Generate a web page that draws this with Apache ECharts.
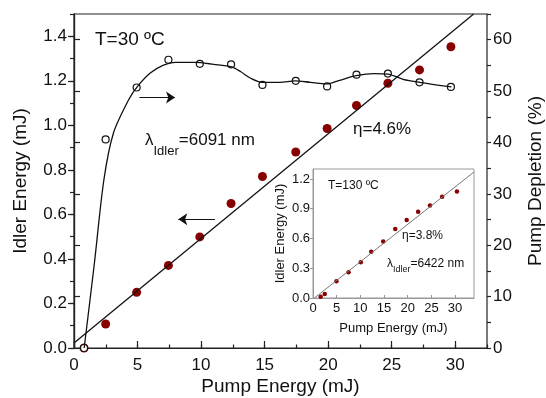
<!DOCTYPE html>
<html>
<head>
<meta charset="utf-8">
<script src="https://cdn.jsdelivr.net/npm/echarts@6/dist/echarts.min.js"></script>
<style>
  html, body { margin: 0; background: #fff; }
  #chart { width: 546px; height: 398px; }
</style>
</head>
<body>
<div id="chart"></div>
<script>
// main plot, T=30 ºC
const pumpEnergy = [0.79, 2.49, 4.93, 7.43, 9.9, 12.36, 14.83, 17.45, 19.92, 22.23, 24.7, 27.19, 29.66]
const idlerEnergy = [0.0, 0.108, 0.25, 0.371, 0.499, 0.649, 0.77, 0.88, 0.986, 1.089, 1.189, 1.249, 1.353]
const pumpDepletion = [0, 40.6, 50.7, 56.1, 55.3, 55.2, 51.2, 52.0, 50.9, 53.2, 53.4, 51.7, 50.8]
// smooth guide curve drawn through the depletion points
const curveX = [0.8, 1.6, 2.35, 3.1, 4.3, 5.0, 6.0, 7.0, 8.0, 9.5, 11.0, 12.4, 13.1, 13.9, 14.8, 16.2, 17.4, 18.6, 19.9, 20.9, 22.2, 23.6, 24.7, 25.9, 27.2, 29.7]
const curveY = [0, 16.4, 32.7, 41.8, 48.3, 50.9, 53.5, 55.0, 55.6, 55.6, 55.2, 54.7, 53.8, 52.5, 51.7, 51.7, 52.0, 51.7, 51.4, 52.1, 53.0, 53.4, 53.3, 52.3, 51.7, 50.8]
const fitX = [0, 31.45]
const fitY = [0.023, 1.5]
const arrowRight = [[5.14, 1.125], [7.95, 1.125]]
const arrowLeft = [[11.1, 0.578], [8.21, 0.578]]

// inset, T=130 ºC
const insetPump = [1.63, 2.48, 4.95, 7.5, 10.1, 12.3, 14.83, 17.37, 19.78, 22.2, 24.7, 27.27, 30.4]
const insetIdler = [0.013, 0.04, 0.17, 0.26, 0.361, 0.465, 0.569, 0.695, 0.786, 0.869, 0.933, 1.02, 1.073]
const insetFitX = [0.3, 34]
const insetFitY = [0, 1.27]

const FONT = '"Liberation Sans", Arial, sans-serif'
const DARK = '#222'
const RED = '#880000'

const zip = (xs, ys) => xs.map((x, i) => [x, ys[i]])

const chart = echarts.init(document.getElementById('chart'), null, { renderer: 'canvas' })

const labelStyle = (size, margin) => ({
  fontSize: size, fontFamily: FONT, color: '#111', margin: margin
})

const option = {
  animation: false,
  backgroundColor: '#fff',
  textStyle: { fontFamily: FONT },
  grid: [
    { left: 74, right: 59, top: 14, bottom: 50, show: true, borderColor: DARK, borderWidth: 1.2,
      containLabel: false, outerBoundsMode: 'none' },
    { left: 313, right: 72, top: 169, bottom: 100, show: true, backgroundColor: '#fff',
      borderColor: '#999', borderWidth: 1, containLabel: false, outerBoundsMode: 'none' }
  ],
  xAxis: [
    {
      gridIndex: 0, type: 'value', position: 'bottom', min: 0, max: 32.5, interval: 5,
      name: 'Pump Energy (mJ)', nameLocation: 'middle', nameGap: 29, nameMoveOverlap: false,
      nameTextStyle: { fontSize: 19, fontFamily: FONT, color: '#111' },
      axisLine: { show: true, lineStyle: { color: DARK, width: 1.2 } },
      axisTick: { show: true, inside: true, length: 7, lineStyle: { color: DARK, width: 1.2 } },
      axisLabel: Object.assign(labelStyle(17, 9), {
        showMaxLabel: false, formatter: v => (v % 5 === 0 ? String(v) : '')
      }),
      splitLine: { show: false }
    },
    {
      // minor ticks
      gridIndex: 0, type: 'value', position: 'bottom', min: 0, max: 32.5, interval: 2.5,
      axisLine: { show: false },
      axisTick: { show: true, inside: true, length: 3.5, lineStyle: { color: DARK, width: 1.2 } },
      axisLabel: { show: false }, splitLine: { show: false }
    },
    {
      gridIndex: 1, type: 'value', position: 'bottom', min: 0, max: 34, interval: 5,
      name: 'Pump Energy (mJ)', nameLocation: 'middle', nameGap: 24, nameMoveOverlap: false,
      nameTextStyle: { fontSize: 13, fontFamily: FONT, color: '#111' },
      axisLine: { show: true, lineStyle: { color: '#999', width: 1 } },
      axisTick: { show: true, inside: true, length: 3, lineStyle: { color: '#999' } },
      axisLabel: Object.assign(labelStyle(13, 4), {
        showMaxLabel: false, formatter: v => (v % 5 === 0 ? String(v) : '')
      }),
      splitLine: { show: false }
    }
  ],
  yAxis: [
    {
      gridIndex: 0, type: 'value', position: 'left', min: 0, max: 1.5, interval: 0.2,
      name: 'Idler Energy (mJ)', nameLocation: 'middle', nameGap: 44, nameRotate: 90, nameMoveOverlap: false,
      nameTextStyle: { fontSize: 19, fontFamily: FONT, color: '#111' },
      axisLine: { show: true, lineStyle: { color: DARK, width: 1.2 } },
      axisTick: { show: true, inside: false, length: 6, lineStyle: { color: DARK, width: 1.2 } },
      axisLabel: Object.assign(labelStyle(17, 7), {
        showMaxLabel: false, formatter: v => (Math.abs(v * 10 % 2) < 1e-6 ? v.toFixed(1) : '')
      }),
      splitLine: { show: false }
    },
    {
      gridIndex: 0, type: 'value', position: 'right', min: 0, max: 65, interval: 10,
      name: 'Pump Depletion (%)', nameLocation: 'middle', nameGap: 39, nameRotate: 90, nameMoveOverlap: false,
      nameTextStyle: { fontSize: 19, fontFamily: FONT, color: '#111' },
      axisLine: { show: true, lineStyle: { color: DARK, width: 1.2 } },
      axisTick: { show: true, inside: false, length: 6, lineStyle: { color: DARK, width: 1.2 } },
      axisLabel: Object.assign(labelStyle(17, 6), {
        showMaxLabel: false, formatter: v => (v % 10 === 0 ? String(v) : '')
      }),
      splitLine: { show: false }
    },
    {
      // left minor ticks
      gridIndex: 0, type: 'value', position: 'left', min: 0, max: 1.5, interval: 0.1,
      axisLine: { show: false },
      axisTick: { show: true, inside: false, length: 4, lineStyle: { color: DARK, width: 1.2 } },
      axisLabel: { show: false }, splitLine: { show: false }
    },
    {
      // right minor ticks
      gridIndex: 0, type: 'value', position: 'right', min: 0, max: 65, interval: 5,
      axisLine: { show: false },
      axisTick: { show: true, inside: false, length: 4, lineStyle: { color: DARK, width: 1.2 } },
      axisLabel: { show: false }, splitLine: { show: false }
    },
    {
      gridIndex: 1, type: 'value', position: 'left', min: 0, max: 1.3, interval: 0.3,
      name: 'Idler Energy (mJ)', nameLocation: 'middle', nameGap: 26, nameRotate: 90, nameMoveOverlap: false,
      nameTextStyle: { fontSize: 13, fontFamily: FONT, color: '#111' },
      axisLine: { show: true, lineStyle: { color: '#999', width: 1 } },
      axisTick: { show: true, inside: false, length: 3, lineStyle: { color: '#999' } },
      axisLabel: Object.assign(labelStyle(13, 3), {
        showMaxLabel: false, formatter: v => v.toFixed(1)
      }),
      splitLine: { show: false }
    }
  ],
  series: [
    {
      name: 'fit', type: 'line', xAxisIndex: 0, yAxisIndex: 0,
      data: zip(fitX, fitY), showSymbol: false, symbol: 'none', clip: true,
      lineStyle: { color: '#111', width: 1.3 },
      markLine: {
        silent: true, symbol: ['none', 'arrow'], symbolSize: 9,
        label: { show: false },
        lineStyle: { type: 'solid', color: '#111', width: 1.2 },
        emphasis: { disabled: true },
        data: [
          [{ coord: arrowRight[0] }, { coord: arrowRight[1] }],
          [{ coord: arrowLeft[0] }, { coord: arrowLeft[1] }]
        ]
      }
    },
    {
      name: 'depletion curve', type: 'line', xAxisIndex: 0, yAxisIndex: 1,
      data: zip(curveX, curveY), showSymbol: false, symbol: 'none', smooth: 0.3,
      lineStyle: { color: '#111', width: 1.3 }
    },
    {
      name: 'idler', type: 'scatter', xAxisIndex: 0, yAxisIndex: 0,
      data: zip(pumpEnergy, idlerEnergy), symbolSize: 9,
      itemStyle: { color: RED, opacity: 1 }
    },
    {
      name: 'depletion', type: 'scatter', xAxisIndex: 0, yAxisIndex: 1,
      data: zip(pumpEnergy, pumpDepletion), symbolSize: 7,
      itemStyle: { color: '#fff', borderColor: '#111', borderWidth: 1.2, opacity: 1 }
    },
    {
      name: 'inset fit', type: 'line', xAxisIndex: 2, yAxisIndex: 4,
      data: zip(insetFitX, insetFitY), showSymbol: false, symbol: 'none',
      lineStyle: { color: '#777', width: 1 }
    },
    {
      name: 'inset idler', type: 'scatter', xAxisIndex: 2, yAxisIndex: 4,
      data: zip(insetPump, insetIdler), symbolSize: 4.5,
      itemStyle: { color: RED, opacity: 1 }
    }
  ],
  graphic: [
    { type: 'text', left: 95, top: 30, style: { text: 'T=30 ºC', fontSize: 19, fontFamily: FONT, fill: '#111' } },
    {
      type: 'text', left: 145, top: 132,
      style: {
        text: '{a|λ}{s|Idler}{a|=6091 nm}', fontFamily: FONT, fill: '#111',
        rich: {
          a: { fontSize: 17, fontFamily: FONT, lineHeight: 20, verticalAlign: 'top' },
          s: { fontSize: 13, fontFamily: FONT, lineHeight: 38, verticalAlign: 'middle' }
        }
      }
    },
    { type: 'text', left: 353, top: 121, style: { text: 'η=4.6%', fontSize: 17, fontFamily: FONT, fill: '#111' } },
    { type: 'text', left: 328, top: 180, z: 10, style: { text: 'T=130 ºC', fontSize: 12, fontFamily: FONT, fill: '#111' } },
    { type: 'text', left: 402, top: 230, z: 10, style: { text: 'η=3.8%', fontSize: 12, fontFamily: FONT, fill: '#111' } },
    {
      type: 'text', left: 387, top: 258, z: 10,
      style: {
        text: '{a|λ}{s|Idler}{a|=6422 nm}', fontFamily: FONT, fill: '#111',
        rich: {
          a: { fontSize: 12, fontFamily: FONT, lineHeight: 14, verticalAlign: 'top' },
          s: { fontSize: 9, fontFamily: FONT, lineHeight: 24, verticalAlign: 'middle' }
        }
      }
    }
  ]
}

chart.setOption(option)
</script>
</body>
</html>
